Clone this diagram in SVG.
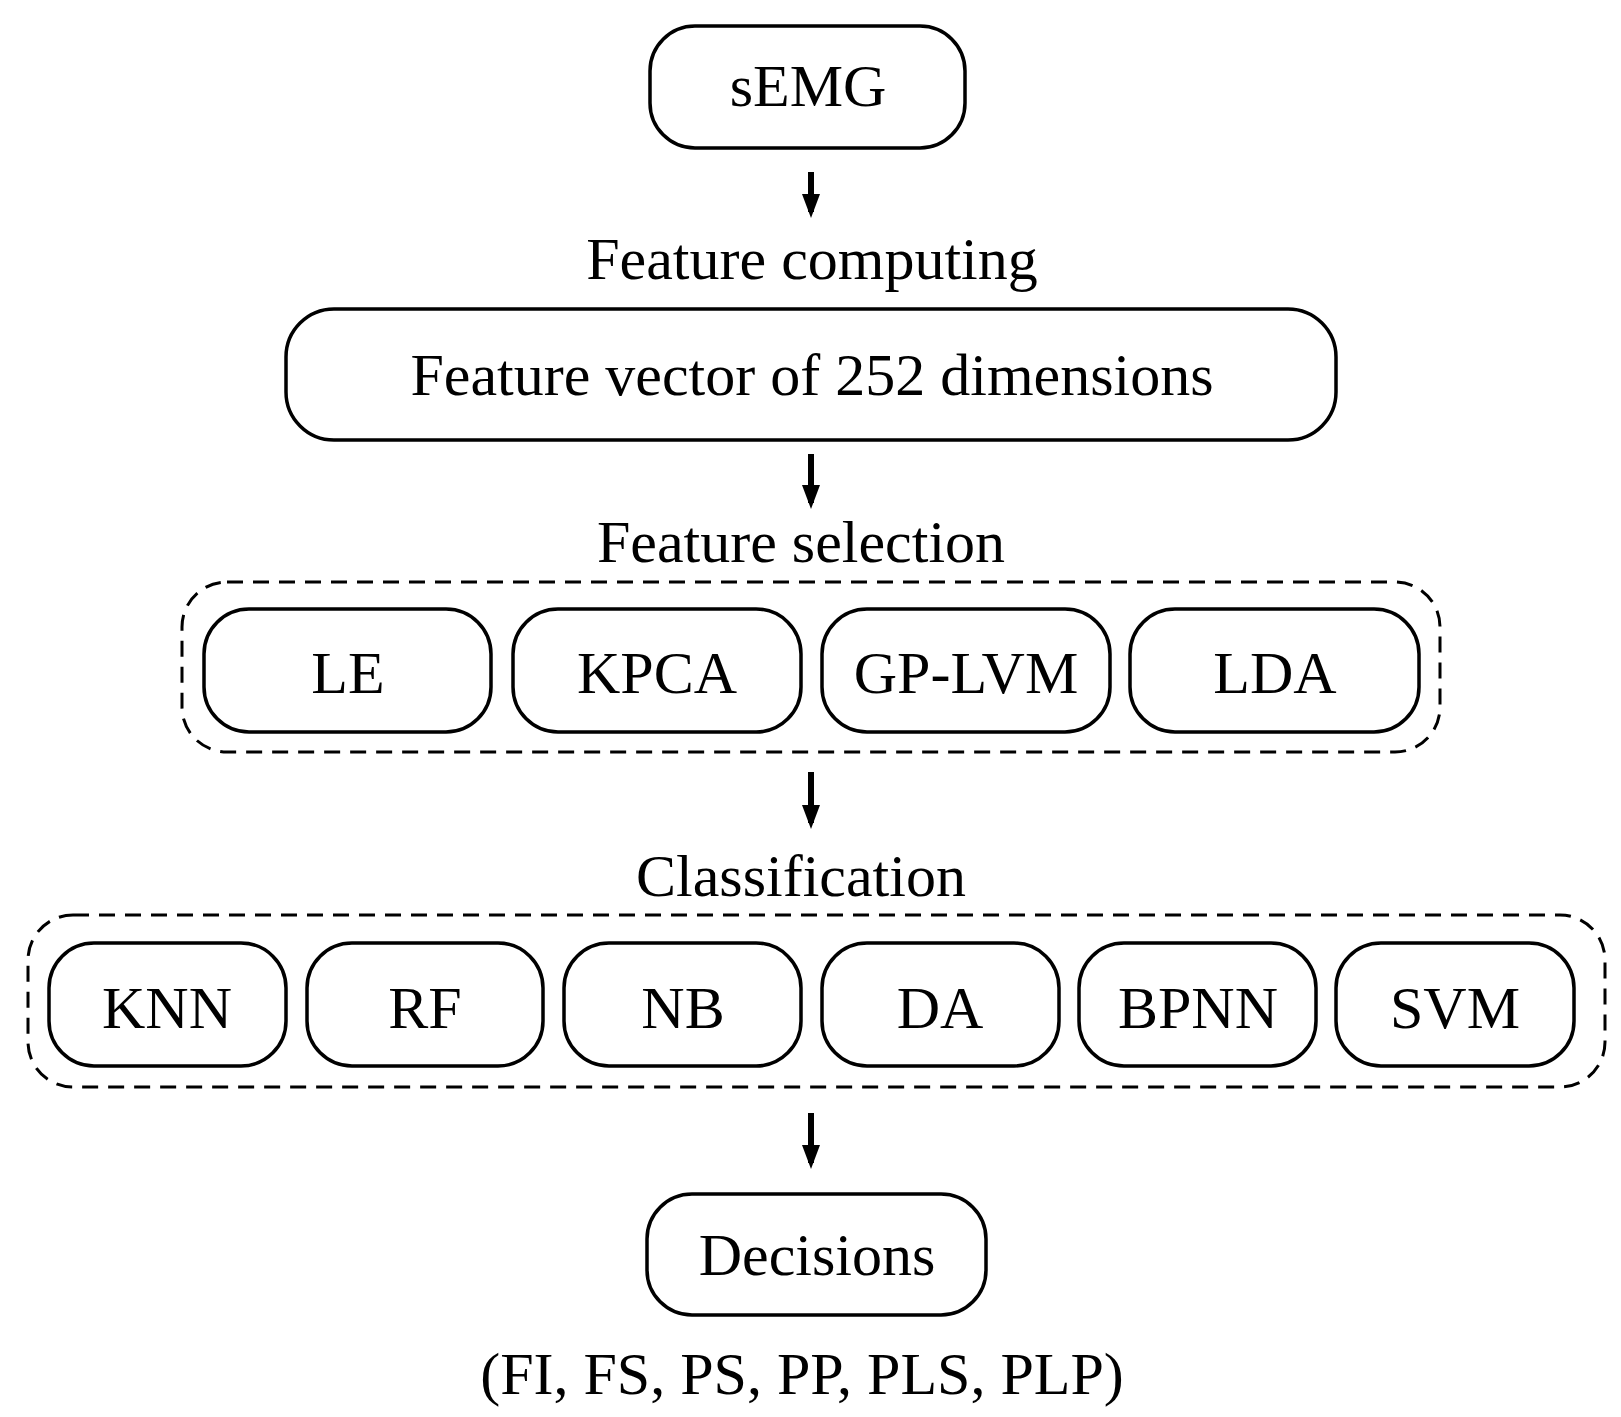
<svg xmlns="http://www.w3.org/2000/svg" width="1621" height="1417" viewBox="0 0 1621 1417">
<style>
text{font-family:"Liberation Serif","Times New Roman",serif;font-size:60px;text-anchor:middle;fill:#000}
.n{fill:#fff;stroke:#000;stroke-width:3.5}
.d{fill:none;stroke:#000;stroke-width:3;stroke-dasharray:16 10}
.a{stroke:#000;stroke-width:6;fill:none}
</style>
<defs><marker id="h" markerWidth="4" markerHeight="3" refX="3" refY="1.5" orient="auto" markerUnits="strokeWidth"><path d="M0,0L4,1.5L0,3z" fill="#000"/></marker></defs>
<rect fill="#fff" width="1621" height="1417"/>
<g id="connectors">
<line class="a" x1="811" y1="172" x2="811" y2="212" marker-end="url(#h)"/>
<line class="a" x1="811" y1="454" x2="811" y2="503" marker-end="url(#h)"/>
<line class="a" x1="811" y1="772" x2="811" y2="823" marker-end="url(#h)"/>
<line class="a" x1="811" y1="1113" x2="811" y2="1163" marker-end="url(#h)"/>
</g>
<g id="semg"><rect class="n" x="650" y="26" width="315" height="122" rx="45"/><text x="808" y="106">sEMG</text></g>
<text x="812" y="279">Feature computing</text>
<g id="fv"><rect class="n" x="286" y="309" width="1050" height="131" rx="48"/><text x="812" y="395">Feature vector of 252 dimensions</text></g>
<text x="801" y="562">Feature selection</text>
<g id="fs"><rect class="d" x="182" y="582" width="1258" height="170" rx="45"/></g>
<g id="le"><rect class="n" x="204" y="609" width="287" height="123" rx="45"/><text x="348" y="693">LE</text></g>
<g id="kpca"><rect class="n" x="513" y="609" width="288" height="123" rx="45"/><text x="657" y="693">KPCA</text></g>
<g id="gplvm"><rect class="n" x="822" y="609" width="288" height="123" rx="45"/><text x="966" y="693">GP-LVM</text></g>
<g id="lda"><rect class="n" x="1130" y="609" width="289" height="123" rx="45"/><text x="1275" y="693">LDA</text></g>
<text x="801" y="896">Classification</text>
<g id="cl"><rect class="d" x="28" y="915" width="1577" height="172" rx="45"/></g>
<g id="knn"><rect class="n" x="49" y="943" width="237" height="123" rx="45"/><text x="167" y="1028">KNN</text></g>
<g id="rf"><rect class="n" x="307" y="943" width="236" height="123" rx="45"/><text x="425" y="1028">RF</text></g>
<g id="nb"><rect class="n" x="564" y="943" width="237" height="123" rx="45"/><text x="683" y="1028">NB</text></g>
<g id="da"><rect class="n" x="822" y="943" width="237" height="123" rx="45"/><text x="940" y="1028">DA</text></g>
<g id="bpnn"><rect class="n" x="1079" y="943" width="237" height="123" rx="45"/><text x="1198" y="1028">BPNN</text></g>
<g id="svm"><rect class="n" x="1336" y="943" width="238" height="123" rx="45"/><text x="1455" y="1028">SVM</text></g>
<g id="dec"><rect class="n" x="647" y="1194" width="339" height="121" rx="45"/><text x="817" y="1275">Decisions</text></g>
<text x="802" y="1394">(FI, FS, PS, PP, PLS, PLP)</text>
</svg>
